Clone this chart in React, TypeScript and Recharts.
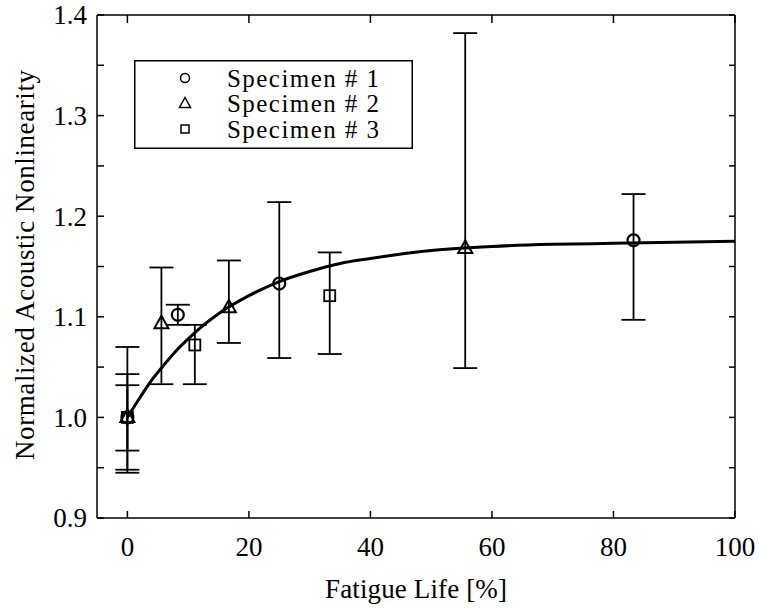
import React from 'react';
import { ComposedChart, Line, Scatter, ErrorBar, XAxis, YAxis, Legend, Label } from 'recharts';

const lifeTicks = [0, 20, 40, 60, 80, 100];
const valueTicks = [0.9, 0.95, 1.0, 1.05, 1.1, 1.15, 1.2, 1.25, 1.3, 1.35, 1.4];

const specimenNames = ['Specimen # 1', 'Specimen # 2', 'Specimen # 3'];

// specimen 1 (circles)
const s1Life = [0, 8.3, 25, 83.3];
const s1Value = [1.0, 1.102, 1.133, 1.176];
const s1Low = [0.945, 1.092, 1.059, 1.097];
const s1High = [1.07, 1.112, 1.214, 1.222];

// specimen 2 (triangles)
const s2Life = [0, 5.6, 16.7, 55.6];
const s2Value = [1.0, 1.093, 1.109, 1.168];
const s2Low = [0.967, 1.033, 1.074, 1.049];
const s2High = [1.043, 1.149, 1.156, 1.382];

// specimen 3 (squares)
const s3Life = [0, 11.1, 33.3];
const s3Value = [1.0, 1.072, 1.121];
const s3Low = [0.948, 1.033, 1.063];
const s3High = [1.032, 1.092, 1.164];

// fitted curve
const fitLife = [0, 2, 4, 6, 8, 10, 12, 15, 20, 25, 30, 35, 40, 50, 60, 70, 80, 90, 100];
const fitValue = [1.0, 1.019, 1.037, 1.052, 1.066, 1.078, 1.089, 1.103, 1.121, 1.135, 1.145, 1.153, 1.158, 1.166, 1.17, 1.172, 1.173, 1.174, 1.175];

const toPoints = (life: number[], val: number[], low: number[], high: number[]) =>
  life.map((x, i) => ({ x, y: val[i], err: [val[i] - low[i], high[i] - val[i]] }));

const s1 = toPoints(s1Life, s1Value, s1Low, s1High);
const s2 = toPoints(s2Life, s2Value, s2Low, s2High);
const s3 = toPoints(s3Life, s3Value, s3Low, s3High);
const fit = fitLife.map((x, i) => ({ x, y: fitValue[i] }));

const font = '"Liberation Serif", "DejaVu Serif", serif';
const FS = 27;
const txt = { fontFamily: font };

const CircleMark = (p: any) => (
  <circle cx={p.cx} cy={p.cy} r={6} fill="none" stroke="#000" strokeWidth={2.2} />
);
const TriangleMark = (p: any) => (
  <polygon
    points={`${p.cx},${p.cy - 8} ${p.cx - 7},${p.cy + 4.5} ${p.cx + 7},${p.cy + 4.5}`}
    fill="none"
    stroke="#000"
    strokeWidth={2}
  />
);
const SquareMark = (p: any) => (
  <rect x={p.cx - 5.5} y={p.cy - 5.5} width={11} height={11} fill="none" stroke="#000" strokeWidth={1.8} />
);

const isMajor = (v: number) => Math.abs(v * 10 - Math.round(v * 10)) < 1e-6;

const LeftTick = ({ x, y, payload }: any) => (
  <g>
    <line x1={x} x2={x + 7} y1={y} y2={y} stroke="#000" strokeWidth={1.5} />
    {isMajor(payload.value) && (
      <text x={x - 10} y={y} dy="0.35em" textAnchor="end" fontSize={FS} style={txt} fill="#000">
        {payload.value.toFixed(1)}
      </text>
    )}
  </g>
);
const RightTick = ({ x, y }: any) => <line x1={x} x2={x - 6} y1={y} y2={y} stroke="#000" strokeWidth={1.5} />;
const BottomTick = ({ x, y, payload }: any) => (
  <g>
    <line x1={x} x2={x} y1={y} y2={y - 7} stroke="#000" strokeWidth={1.5} />
    <text x={x} y={y + 29} dy="0.35em" textAnchor="middle" fontSize={FS} style={txt} fill="#000">
      {payload.value}
    </text>
  </g>
);
const TopTick = ({ x, y }: any) => <line x1={x} x2={x} y1={y} y2={y + 8} stroke="#000" strokeWidth={1.5} />;

const legendMarks = [
  (cx: number, cy: number) => <circle cx={cx} cy={cy} r={4.5} fill="none" stroke="#000" strokeWidth={1.5} />,
  (cx: number, cy: number) => (
    <polygon points={`${cx},${cy - 6} ${cx - 5.5},${cy + 4} ${cx + 5.5},${cy + 4}`} fill="none" stroke="#000" strokeWidth={1.5} />
  ),
  (cx: number, cy: number) => <rect x={cx - 4} y={cy - 4} width={8} height={8} fill="none" stroke="#000" strokeWidth={1.5} />,
];

const LegendBox = () => (
  <svg width={279} height={89} style={{ display: 'block' }}>
    <rect x={0.75} y={0.75} width={277.5} height={87.5} fill="#fff" stroke="#000" strokeWidth={1.5} />
    {specimenNames.map((name, i) => {
      const cy = 18 + i * 25.5;
      return (
        <g key={name}>
          {legendMarks[i](51, cy)}
          <text x={93} y={cy} dy="0.35em" fontSize={25} textLength={152} lengthAdjust="spacing" style={txt} fill="#000">
            {name}
          </text>
        </g>
      );
    })}
  </svg>
);

const axisLine = { stroke: '#000', strokeWidth: 1.5 };

export default function App() {
  return (
    <div style={{ position: 'absolute', left: 0, top: 0, background: '#fff' }}>
      <ComposedChart width={759} height={608} margin={{ top: 14, right: 23, bottom: 0, left: 0 }}>
        <XAxis
          xAxisId="bottom"
          type="number"
          dataKey="x"
          domain={[-5, 100]}
          ticks={lifeTicks}
          interval={0}
          height={90}
          tickSize={0}
          tickMargin={0}
          tickLine={false}
          axisLine={axisLine}
          tick={BottomTick}
          allowDataOverflow
        >
          <Label
            content={({ viewBox }: any) => (
              <text
                x={viewBox.x + viewBox.width / 2}
                y={viewBox.y + 80}
                textAnchor="middle"
                fontSize={FS}
                textLength={182}
                lengthAdjust="spacing"
                style={txt}
                fill="#000"
              >
                Fatigue Life [%]
              </text>
            )}
          />
        </XAxis>
        <XAxis
          xAxisId="top"
          orientation="top"
          type="number"
          dataKey="x"
          domain={[-5, 100]}
          ticks={lifeTicks}
          interval={0}
          height={1}
          tickSize={0}
          tickMargin={0}
          tickLine={false}
          axisLine={axisLine}
          tick={TopTick}
          allowDataOverflow
        />
        <YAxis
          yAxisId="left"
          type="number"
          dataKey="y"
          domain={[0.9, 1.4]}
          ticks={valueTicks}
          interval={0}
          width={97}
          tickSize={0}
          tickMargin={0}
          tickLine={false}
          axisLine={axisLine}
          tick={LeftTick}
          allowDataOverflow
        >
          <Label
            content={() => (
              <text
                x={25}
                y={265}
                transform="rotate(-90, 25, 265)"
                textAnchor="middle"
                dominantBaseline="central"
                fontSize={FS}
                textLength={390}
                lengthAdjust="spacing"
                style={txt}
                fill="#000"
              >
                Normalized Acoustic Nonlinearity
              </text>
            )}
          />
        </YAxis>
        <YAxis
          yAxisId="right"
          orientation="right"
          type="number"
          dataKey="y"
          domain={[0.9, 1.4]}
          ticks={valueTicks}
          interval={0}
          width={1}
          tickSize={0}
          tickMargin={0}
          tickLine={false}
          axisLine={axisLine}
          tick={RightTick}
          allowDataOverflow
        />
        <Legend
          layout="vertical"
          align="center"
          verticalAlign="middle"
          wrapperStyle={{ left: 134, top: 60, width: 279, height: 89 }}
          content={() => <LegendBox />}
        />
        <Line
          xAxisId="bottom"
          yAxisId="left"
          data={fit}
          dataKey="y"
          type="monotone"
          stroke="#000"
          strokeWidth={3}
          dot={false}
          activeDot={false}
          isAnimationActive={false}
          legendType="none"
        />
        <Scatter xAxisId="bottom" yAxisId="left" data={s1} name={specimenNames[0]} shape={CircleMark} isAnimationActive={false}>
          <ErrorBar dataKey="err" direction="y" width={12} stroke="#000" strokeWidth={1.8} />
        </Scatter>
        <Scatter xAxisId="bottom" yAxisId="left" data={s2} name={specimenNames[1]} shape={TriangleMark} isAnimationActive={false}>
          <ErrorBar dataKey="err" direction="y" width={12} stroke="#000" strokeWidth={1.8} />
        </Scatter>
        <Scatter xAxisId="bottom" yAxisId="left" data={s3} name={specimenNames[2]} shape={SquareMark} isAnimationActive={false}>
          <ErrorBar dataKey="err" direction="y" width={12} stroke="#000" strokeWidth={1.8} />
        </Scatter>
      </ComposedChart>
    </div>
  );
}
